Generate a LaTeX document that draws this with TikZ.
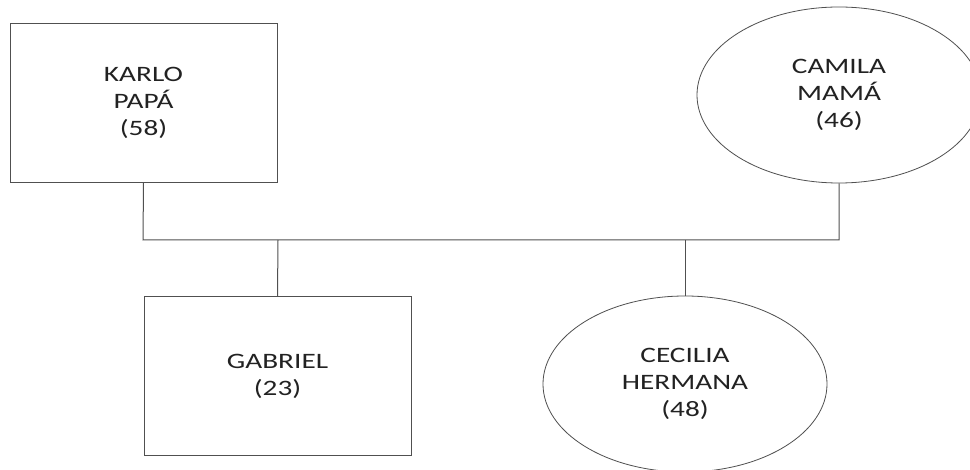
\documentclass[tikz,border=0pt]{standalone}
\usepackage{fontspec}
\setmainfont{Carlito}
\newfontfamily\widefont[FakeStretch=1.33]{Carlito}
\usetikzlibrary{shapes.geometric}
\definecolor{linec}{HTML}{505050}
\definecolor{textc}{HTML}{222222}
\begin{document}
\begin{tikzpicture}[x=1pt,y=-1pt,
  male/.style={draw=linec, line width=1pt, rectangle, minimum width=267pt, minimum height=159pt, inner sep=0pt, align=center, text=textc, font=\widefont\fontsize{22}{27}\selectfont},
  female/.style={draw=linec, line width=0.8pt, ellipse, minimum width=284pt, minimum height=176pt, inner sep=0pt, align=center, text=textc, font=\widefont\fontsize{22}{27}\selectfont},
  link/.style={draw=linec, line width=1pt}]
\useasboundingbox (0,0) rectangle (970,470);
\clip (0,0) rectangle (970,470);
\fill[white] (0,0) rectangle (970,470);
\node[male] (karlo) at (143.5,103) {KARLO\\PAPÁ\\(58)};
\node[female] (camila) at (839,95) {CAMILA\\MAMÁ\\(46)};
\node[male] (gabriel) at (277.5,376) {GABRIEL\\(23)};
\node[female] (cecilia) at (685,384) {CECILIA\\HERMANA\\(48)};
\coordinate (jl) at (143,240);
\coordinate (jr) at (839,240);
\coordinate (jg) at (278,240);
\coordinate (jc) at (685,240);
\draw[link] (karlo.south) -- (jl) -- (jr) -- (camila.south);
\draw[link] (jg) -- (gabriel.north);
\draw[link] (jc) -- (cecilia.north);
\end{tikzpicture}
\end{document}
